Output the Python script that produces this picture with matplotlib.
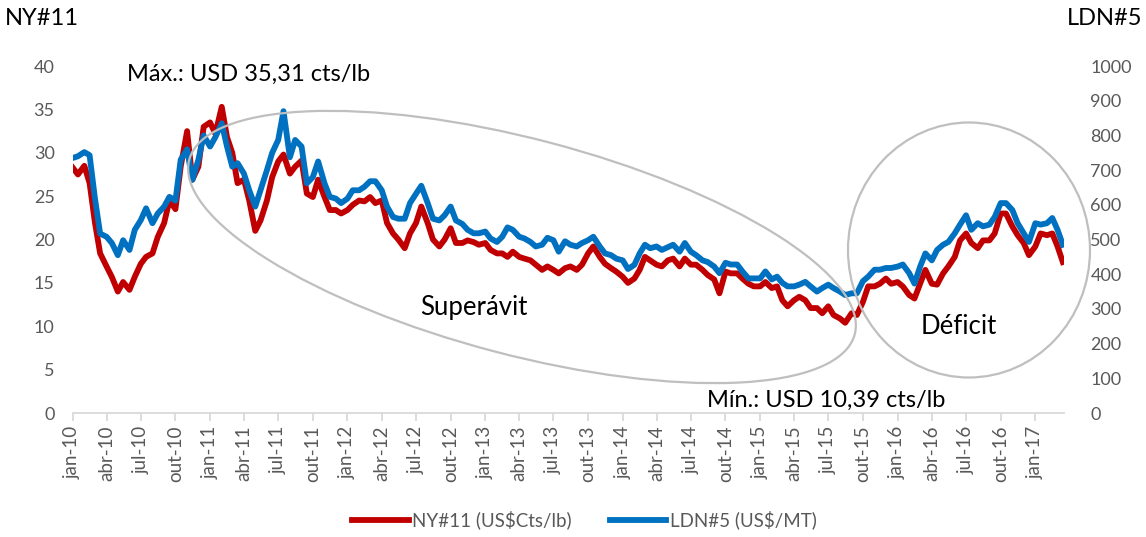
import pandas as pd
import matplotlib
matplotlib.use("Agg")
import matplotlib.pyplot as plt
import matplotlib.dates as mdates
from matplotlib.patches import Ellipse
from matplotlib.transforms import IdentityTransform

plt.rcParams["font.family"] = ["Lato", "DejaVu Sans"]

# semi-monthly readings, jan-10 .. mar-17
dates = pd.date_range("2010-01-01", "2017-03-31", freq="SMS")

ny11 = [
    # 2010
    28.3, 27.5, 28.5, 26.5, 22.0, 18.4, 16.9, 15.7, 14.0, 15.1, 14.2, 15.7,
    17.2, 18.0, 18.4, 20.3, 21.9, 24.5, 23.5, 28.4, 32.5, 26.9, 28.4, 33.0,
    # 2011
    33.5, 32.2, 35.3, 31.8, 30.0, 26.5, 26.9, 24.5, 21.0, 22.2, 24.5, 27.2,
    29.0, 29.8, 27.6, 28.4, 29.1, 25.3, 24.9, 26.9, 24.9, 23.4, 23.4, 23.0,
    # 2012
    23.4, 24.0, 24.5, 24.4, 24.9, 24.2, 24.5, 21.9, 20.7, 20.0, 19.0, 20.7,
    21.9, 23.8, 21.9, 20.0, 19.2, 20.0, 21.3, 19.6, 19.6, 19.9, 19.7, 19.4,
    # 2013
    19.6, 18.8, 18.4, 18.4, 18.0, 18.6, 18.0, 17.8, 17.6, 17.1, 16.5, 16.9,
    16.5, 16.1, 16.7, 16.9, 16.5, 17.1, 18.4, 19.2, 18.0, 17.2, 16.7, 16.3,
    # 2014
    15.7, 15.0, 15.5, 16.5, 18.0, 17.6, 17.1, 16.9, 17.6, 17.8, 16.9, 17.8,
    17.1, 17.1, 16.5, 15.9, 15.4, 13.8, 16.3, 16.1, 16.1, 15.5, 14.9, 14.6,
    # 2015
    14.6, 15.1, 14.4, 14.6, 13.0, 12.3, 13.0, 13.4, 13.0, 12.1, 12.1, 11.5,
    12.3, 11.3, 10.9, 10.4, 11.5, 11.3, 12.8, 14.6, 14.6, 14.9, 15.5, 14.9,
    # 2016
    15.1, 14.6, 13.6, 13.2, 14.9, 16.5, 14.9, 14.8, 16.1, 16.9, 18.0, 19.9,
    20.7, 19.6, 19.0, 19.9, 19.9, 20.7, 23.0, 23.0, 21.5, 20.5, 19.6, 18.2,
    # 2017
    19.2, 20.7, 20.5, 20.7, 19.2, 17.4,
]

ldn5 = [
    # 2010
    735, 740, 752, 743, 620, 517, 508, 490, 455, 498, 470, 528,
    556, 590, 547, 575, 595, 623, 612, 730, 760, 672, 730, 800,
    # 2011
    768, 795, 835, 768, 710, 720, 690, 642, 595, 642, 700, 750,
    787, 870, 737, 787, 768, 662, 680, 725, 662, 623, 618, 605,
    # 2012
    618, 642, 642, 652, 668, 668, 642, 595, 565, 560, 560, 605,
    632, 655, 605, 560, 555, 570, 595, 555, 545, 528, 518, 518,
    # 2013
    523, 503, 493, 508, 535, 528, 508, 503, 493, 480, 485, 505,
    498, 465, 495, 485, 480, 490, 498, 508, 480, 460, 455, 445,
    # 2014
    440, 415, 427, 460, 485, 475, 480, 470, 478, 485, 465, 490,
    465, 455, 440, 435, 422, 403, 433, 428, 428, 408, 388, 388,
    # 2015
    388, 408, 385, 393, 375, 365, 365, 370, 378, 365, 350, 360,
    370, 360, 350, 340, 345, 345, 380, 393, 413, 413, 418, 418,
    # 2016
    422, 428, 403, 373, 422, 460, 440, 470, 485, 493, 518, 543,
    570, 528, 547, 538, 543, 565, 605, 605, 585, 547, 518, 493,
    # 2017
    547, 543, 547, 562, 528, 485,
]

MESES = {1: "jan", 4: "abr", 7: "jul", 10: "out"}
RED = "#C00000"
BLUE = "#0070C0"
GREY_TXT = "#595959"

fig = plt.figure(figsize=(11.46, 5.37), dpi=100)
ax = fig.add_axes([0.0634, 0.2309, 0.865, 0.6461])
ax2 = ax.twinx()

l1, = ax.plot(dates, ny11, color=RED, lw=4.2, solid_joinstyle="round")
l2, = ax2.plot(dates, ldn5, color=BLUE, lw=4.2, solid_joinstyle="round")

ax.set_ylim(0, 40)
ax.set_yticks(range(0, 41, 5))
ax2.set_ylim(0, 1000)
ax2.set_yticks(range(0, 1001, 100))
ax.set_xlim(pd.Timestamp("2010-01-01"), pd.Timestamp("2017-03-18"))

ax.xaxis.set_major_locator(mdates.MonthLocator(bymonth=[1, 4, 7, 10]))
ax.xaxis.set_major_formatter(
    plt.FuncFormatter(lambda v, p: "%s-%s" % (MESES[mdates.num2date(v).month],
                                              mdates.num2date(v).strftime("%y"))))

for a in (ax, ax2):
    for s in a.spines.values():
        s.set_visible(False)
ax.spines["bottom"].set_visible(True)
ax.spines["bottom"].set_color("#D9D9D9")
ax.spines["bottom"].set_linewidth(1.3)

ax.tick_params(axis="x", rotation=90, colors=GREY_TXT, labelsize=13.5,
               length=6, width=1.3, color="#D9D9D9", pad=3)
ax.tick_params(axis="y", colors=GREY_TXT, labelsize=13, length=0, pad=13)
ax2.tick_params(axis="y", colors=GREY_TXT, labelsize=13, length=0, pad=19)

fig.text(0.004, 0.965, "NY#11", fontsize=17, va="center", ha="left")
fig.text(0.997, 0.965, "LDN#5", fontsize=17, va="center", ha="right")

fig.text(127 / 1146, 1 - 74 / 537, "Máx.: USD 35,31 cts/lb", fontsize=17,
         va="center", ha="left")
fig.text(707 / 1146, 1 - 400 / 537, "Mín.: USD 10,39 cts/lb", fontsize=17,
         va="center", ha="left")
fig.text(474 / 1146, 1 - 308 / 537, "Superávit", fontsize=18.5,
         va="center", ha="center")
fig.text(959 / 1146, 1 - 327 / 537, "Déficit", fontsize=18.5,
         va="center", ha="center")

# highlight shapes (figure pixels)
H = 537
fig.patches.append(Ellipse((522, H - 247), 688, 216, angle=-14.7, fill=False,
                           ec="#BFBFBF", lw=1.6, transform=IdentityTransform(),
                           figure=fig))
fig.patches.append(Ellipse((969, H - 250), 242, 255, fill=False,
                           ec="#BFBFBF", lw=1.6, transform=IdentityTransform(),
                           figure=fig))

fig.legend([l1, l2], ["NY#11 (US$Cts/lb)", "LDN#5 (US$/MT)"],
           loc="center", bbox_to_anchor=(0.51, 0.032), ncol=2, frameon=False,
           fontsize=13.5, labelcolor=GREY_TXT, handlelength=3.0, handletextpad=0.2,
           columnspacing=2.0)

fig.savefig("out.png", dpi=100)
